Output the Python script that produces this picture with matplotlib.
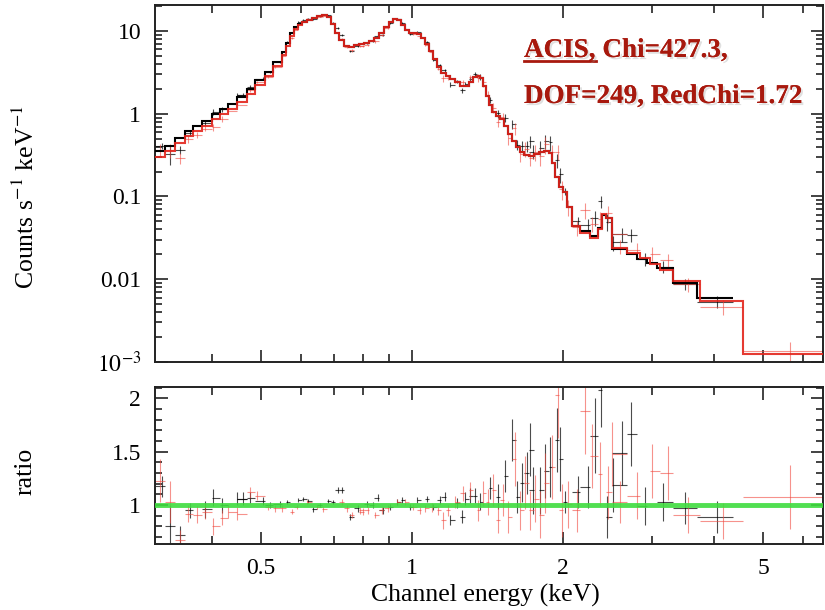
import numpy as np
import matplotlib.pyplot as plt
import matplotlib.patheffects as pe
from matplotlib.lines import Line2D
from matplotlib.ticker import FixedLocator, FixedFormatter, NullFormatter, MultipleLocator, LogLocator

plt.rcParams['font.family'] = ['Liberation Serif', 'DejaVu Serif']
plt.rcParams['mathtext.fontset'] = 'stix'

# ---- model (folded) : bin edges in keV and counts/s/keV ----
blk_edges = [0.308, 0.322, 0.337, 0.353, 0.366, 0.382, 0.400, 0.415, 0.430, 0.448,
             0.469, 0.487, 0.509, 0.529, 0.551, 0.561, 0.572, 0.582, 0.593, 0.604,
             0.618, 0.632, 0.647, 0.662, 0.678, 0.690, 0.703, 0.716, 0.732, 0.749,
             0.766, 0.784, 0.802, 0.821, 0.840, 0.860, 0.880, 0.900, 0.917, 0.934,
             0.951, 0.968, 0.986, 1.005, 1.023, 1.042, 1.061, 1.081, 1.101, 1.121,
             1.142, 1.169, 1.190, 1.218, 1.246, 1.275, 1.299, 1.323, 1.347, 1.366,
             1.385, 1.404, 1.424, 1.443, 1.470, 1.497, 1.525, 1.553, 1.582, 1.611,
             1.641, 1.671, 1.711, 1.750, 1.791, 1.833, 1.875, 1.901, 1.927, 1.963,
             2.000, 2.037, 2.084, 2.161, 2.262, 2.348, 2.391, 2.435, 2.503, 2.682,
             2.807, 2.939, 3.076, 3.311, 3.697, 4.360]
blk_model = [0.351, 0.404, 0.505, 0.614, 0.705, 0.811, 0.986, 1.135, 1.30, 1.585,
             1.98, 2.55, 3.18, 4.21, 5.56, 7.16, 9.46, 11.2, 12.2, 12.9,
             13.6, 14.4, 15.2, 15.6, 14.8, 12.2, 9.46, 7.78, 6.58, 6.40,
             6.76, 6.95, 7.16, 7.57, 8.23, 9.46, 11.2, 12.9, 14.0, 13.6,
             11.8, 10.3, 9.46, 9.46, 9.20, 8.23, 6.95, 5.72, 4.58, 3.66,
             3.10, 2.85, 2.62, 2.41, 2.15, 2.15, 2.41, 2.77, 2.85, 2.69,
             2.15, 1.63, 1.27, 1.04, 0.933, 0.858, 0.705, 0.565, 0.465, 0.393,
             0.341, 0.314, 0.305, 0.323, 0.341, 0.351, 0.332, 0.251, 0.170, 0.129,
             0.112, 0.0736, 0.0445, 0.0387, 0.0337, 0.0421, 0.0589, 0.0556, 0.0234, 0.0204,
             0.0177, 0.0158, 0.0138, 0.0091, 0.0060]

red_edges = [0.308, 0.322, 0.337, 0.353, 0.366, 0.382, 0.400, 0.415, 0.430, 0.448,
             0.469, 0.487, 0.509, 0.529, 0.551, 0.561, 0.572, 0.582, 0.593, 0.604,
             0.618, 0.632, 0.647, 0.662, 0.678, 0.690, 0.703, 0.716, 0.732, 0.749,
             0.766, 0.784, 0.802, 0.821, 0.840, 0.860, 0.880, 0.900, 0.917, 0.934,
             0.951, 0.968, 0.986, 1.005, 1.023, 1.042, 1.061, 1.081, 1.101, 1.121,
             1.142, 1.169, 1.190, 1.218, 1.246, 1.275, 1.299, 1.323, 1.347, 1.366,
             1.385, 1.404, 1.424, 1.443, 1.470, 1.497, 1.525, 1.553, 1.582, 1.611,
             1.641, 1.671, 1.711, 1.750, 1.791, 1.833, 1.875, 1.901, 1.927, 1.963,
             2.000, 2.037, 2.084, 2.161, 2.262, 2.348, 2.391, 2.435, 2.503, 2.682,
             2.846, 2.980, 3.119, 3.311, 3.748, 4.564, 6.65]
red_model = [0.297, 0.351, 0.439, 0.533, 0.614, 0.705, 0.858, 0.986, 1.135, 1.38,
             1.72, 2.21, 2.85, 3.77, 5.12, 6.58, 8.69, 10.6, 11.8, 12.9,
             13.6, 14.4, 15.2, 15.6, 14.8, 12.2, 9.46, 7.78, 6.58, 6.40,
             6.76, 6.95, 7.16, 7.57, 8.23, 9.46, 11.2, 12.9, 14.0, 13.6,
             11.8, 10.3, 9.46, 9.46, 9.20, 8.23, 6.95, 5.72, 4.58, 3.66,
             3.10, 2.85, 2.62, 2.41, 2.15, 2.15, 2.41, 2.77, 2.85, 2.69,
             2.15, 1.63, 1.27, 1.04, 0.933, 0.858, 0.705, 0.565, 0.465, 0.393,
             0.341, 0.314, 0.305, 0.323, 0.341, 0.351, 0.332, 0.251, 0.170, 0.129,
             0.112, 0.0736, 0.0445, 0.0366, 0.0318, 0.0409, 0.0622, 0.0556, 0.0241, 0.0209,
             0.0182, 0.0154, 0.0130, 0.0096, 0.0055, 0.00125]

# ---- data / model ratios ----
blk_e = [0.318, 0.330, 0.345, 0.361, 0.387, 0.401, 0.418, 0.448, 0.461, 0.476,
         0.505, 0.521, 0.546, 0.564, 0.593, 0.607, 0.621, 0.635, 0.656, 0.680,
         0.696, 0.712, 0.726, 0.752, 0.781, 0.813, 0.836, 0.856, 0.875, 0.904,
         0.934, 0.955, 0.991, 1.023, 1.071, 1.101, 1.137, 1.163, 1.190, 1.229,
         1.258, 1.275, 1.305, 1.335, 1.366, 1.430, 1.483, 1.532, 1.582, 1.619,
         1.656, 1.694, 1.718, 1.742, 1.799, 1.840, 1.884, 1.945, 1.971, 2.018,
         2.141, 2.242, 2.315, 2.380, 2.446, 2.513, 2.620, 2.731, 2.912, 3.16,
         3.50, 4.05]
blk_ratio = [1.175, 0.80, 0.72, 0.95, 0.96, 1.07, 1.00, 1.06, 1.06, 1.07,
             1.04, 1.00, 1.01, 1.03, 1.05, 1.06, 1.04, 0.96, 1.00, 1.04,
             1.03, 1.14, 1.14, 0.89, 0.97, 1.01, 1.00, 1.07, 0.95, 0.98,
             1.03, 1.05, 0.98, 1.05, 1.06, 0.98, 1.05, 1.08, 0.86, 1.02,
             0.89, 1.06, 1.09, 1.09, 1.03, 1.16, 1.08, 1.27, 1.61, 1.08,
             1.21, 1.30, 1.52, 1.14, 1.14, 1.32, 1.36, 1.61, 1.43, 1.03,
             1.12, 1.17, 1.65, 2.08, 0.89, 1.19, 1.49, 1.67, 0.99, 1.03,
             0.97, 0.89]
blk_err = [0.10, 0.20, 0.08, 0.07, 0.08, 0.08, 0.07, 0.06, 0.06, 0.05,
           0.04, 0.03, 0.03, 0.02, 0.02, 0.02, 0.02, 0.02, 0.02, 0.02,
           0.02, 0.03, 0.03, 0.03, 0.03, 0.03, 0.03, 0.03, 0.03, 0.03,
           0.03, 0.03, 0.03, 0.03, 0.03, 0.03, 0.04, 0.04, 0.05, 0.05,
           0.06, 0.06, 0.07, 0.07, 0.08, 0.10, 0.12, 0.15, 0.20, 0.15,
           0.18, 0.20, 0.25, 0.22, 0.22, 0.25, 0.28, 0.30, 0.30, 0.10,
           0.15, 0.20, 0.35, 0.35, 0.20, 0.25, 0.30, 0.30, 0.18, 0.18,
           0.15, 0.15]

red_e = [0.315, 0.330, 0.345, 0.358, 0.373, 0.387, 0.401, 0.418, 0.430, 0.448,
         0.476, 0.491, 0.517, 0.533, 0.551, 0.577, 0.590, 0.618, 0.647, 0.665,
         0.726, 0.742, 0.760, 0.788, 0.799, 0.817, 0.844, 0.872, 0.896, 0.934,
         0.968, 1.005, 1.037, 1.061, 1.096, 1.127, 1.153, 1.180, 1.218, 1.264,
         1.305, 1.353, 1.385, 1.417, 1.450, 1.483, 1.518, 1.553, 1.604, 1.641,
         1.679, 1.718, 1.758, 1.799, 1.840, 1.901, 1.954, 1.990, 2.046, 2.131,
         2.211, 2.284, 2.369, 2.457, 2.503, 2.596, 2.807, 3.007, 3.236, 3.546,
         4.165, 5.662]
red_ratio = [1.23, 1.03, 0.67, 0.92, 0.91, 0.94, 0.80, 0.88, 0.94, 0.92,
             1.12, 1.09, 0.98, 0.97, 0.97, 0.94, 0.98, 1.03, 0.98, 0.96,
             1.03, 0.97, 0.91, 0.95, 0.94, 0.95, 0.91, 0.95, 0.97, 1.03,
             1.03, 0.98, 0.95, 0.97, 0.98, 0.95, 0.86, 0.95, 1.03, 1.11,
             1.14, 0.95, 1.11, 1.03, 1.14, 0.86, 1.05, 0.89, 1.43, 0.95,
             1.21, 0.95, 1.06, 0.91, 1.21, 1.36, 2.03, 0.95, 1.01, 0.95,
             1.88, 1.46, 1.29, 1.12, 1.48, 1.03, 1.09, 1.32, 1.30, 0.91,
             0.85, 1.08]
red_err = [0.20, 0.20, 0.10, 0.08, 0.08, 0.07, 0.08, 0.07, 0.06, 0.06,
           0.05, 0.04, 0.03, 0.03, 0.03, 0.02, 0.02, 0.02, 0.02, 0.02,
           0.03, 0.03, 0.03, 0.03, 0.03, 0.03, 0.03, 0.03, 0.03, 0.03,
           0.03, 0.03, 0.03, 0.03, 0.04, 0.04, 0.08, 0.05, 0.06, 0.07,
           0.08, 0.10, 0.12, 0.12, 0.15, 0.12, 0.15, 0.15, 0.25, 0.18,
           0.25, 0.18, 0.22, 0.22, 0.28, 0.30, 0.40, 0.25, 0.22, 0.20,
           0.40, 0.30, 0.30, 0.25, 0.30, 0.20, 0.22, 0.25, 0.25, 0.17,
           0.17, 0.30]

x_ticks = [0.5, 1, 2, 5]
x_minor = [0.4, 0.6, 0.7, 0.8, 0.9, 3, 4, 6]
y_ticks = [1e-3, 1e-2, 0.1, 1, 10]
y_labels = ['$10^{-3}$', '0.01', '0.1', '1', '10']

BLK = 'black'
RED = '#e3241c'
TXT = '#a8190e'


def lookup(e, edges, vals):
    # model value and channel bounds for each data energy
    edges = np.asarray(edges)
    vals = np.asarray(vals)
    e = np.asarray(e)
    i = np.clip(np.searchsorted(edges, e, side='right') - 1, 0, len(vals) - 1)
    return vals[i], e - edges[i], edges[i + 1] - e


fig = plt.figure(figsize=(8.25, 6.10), dpi=100)
ax1 = fig.add_axes([0.188, 0.4066, 0.810, 0.5852])
ax2 = fig.add_axes([0.188, 0.1082, 0.810, 0.2574])

for e, r, er, edges, vals, col, al in [
        (blk_e, blk_ratio, blk_err, blk_edges, blk_model, BLK, 0.7),
        (red_e, red_ratio, red_err, red_edges, red_model, '#f04a40', 0.6)]:
    m, lo, hi = lookup(e, edges, vals)
    r = np.asarray(r)
    er = np.asarray(er)
    ax1.errorbar(e, m * r, yerr=m * er, xerr=[lo, hi], fmt='none',
                 ecolor=col, elinewidth=0.8, alpha=al, zorder=2)
    ax2.errorbar(e, r, yerr=er, xerr=[lo, hi], fmt='none',
                 ecolor=col, elinewidth=0.8, alpha=al, zorder=2)

ax1.stairs(blk_model, blk_edges, baseline=None, color=BLK, lw=1.5, zorder=3)
ax1.stairs(red_model, red_edges, baseline=None, color=RED, lw=1.5, alpha=0.9, zorder=4)
ax2.axhline(1.0, color='#3edc3e', lw=3.5, alpha=0.9, zorder=3)

for ax in (ax1, ax2):
    ax.set_xscale('log')
    ax.set_xlim(0.308, 6.59)
    ax.xaxis.set_major_locator(FixedLocator(x_ticks))
    ax.xaxis.set_major_formatter(FixedFormatter([str(t) for t in x_ticks]))
    ax.xaxis.set_minor_locator(FixedLocator(x_minor))
    ax.xaxis.set_minor_formatter(NullFormatter())
    ax.tick_params(which='both', direction='in', top=True, right=True,
                   width=1.2, color='#222222', labelsize=17, pad=10)
    ax.tick_params(which='major', length=9)
    ax.tick_params(which='minor', length=6)
    for s in ax.spines.values():
        s.set_linewidth(1.4)
        s.set_color('#222222')

ax1.set_yscale('log')
ax1.set_ylim(1e-3, 20.6)
ax1.yaxis.set_major_locator(FixedLocator(y_ticks))
ax1.yaxis.set_major_formatter(FixedFormatter(y_labels))
ax1.yaxis.set_minor_locator(LogLocator(base=10, subs=np.arange(2, 10)))
ax1.yaxis.set_minor_formatter(NullFormatter())
ax1.tick_params(axis='y', which='minor', length=5)
ax1.tick_params(labelbottom=False)

ax2.set_ylim(0.636, 2.106)
ax2.yaxis.set_major_locator(FixedLocator([1, 1.5, 2]))
ax2.yaxis.set_major_formatter(FixedFormatter(['1', '1.5', '2']))
ax2.yaxis.set_minor_locator(MultipleLocator(0.1))
ax2.tick_params(axis='y', which='minor', length=5)

fig.text(26 / 825, 1 - 197 / 610, 'Counts s$^{-1}$ keV$^{-1}$', rotation=90,
         ha='center', va='center', fontsize=18.5)
fig.text(26 / 825, 1 - 471 / 610, 'ratio', rotation=90,
         ha='center', va='center', fontsize=18.5)
fig.text(485 / 825, 1 - 595 / 610, 'Channel energy (keV)',
         ha='center', va='center', fontsize=18.5)

# annotation (first word underlined)
shadow = [pe.withSimplePatchShadow(offset=(1.5, -1.5), shadow_rgbFace='#999999', alpha=0.3),
          pe.Normal()]
kw = dict(fontsize=19.5, fontweight='bold', color=TXT, va='baseline', ha='left',
          path_effects=shadow)
t1 = fig.text(524 / 825, 1 - 57 / 610, 'ACIS,', **kw)
fig.canvas.draw()
bb = t1.get_window_extent(fig.canvas.get_renderer())
W, H = fig.bbox.width, fig.bbox.height
fig.text(bb.x1 / W, 1 - 57 / 610, ' Chi=427.3,', **kw)
uy = 1 - 60.5 / 610
fig.add_artist(Line2D([bb.x0 / W, bb.x1 / W], [uy, uy], color=TXT, lw=2,
                      transform=fig.transFigure))
fig.text(524 / 825, 1 - 103 / 610, 'DOF=249, RedChi=1.72', **kw)

fig.savefig('out.png', dpi=100)
